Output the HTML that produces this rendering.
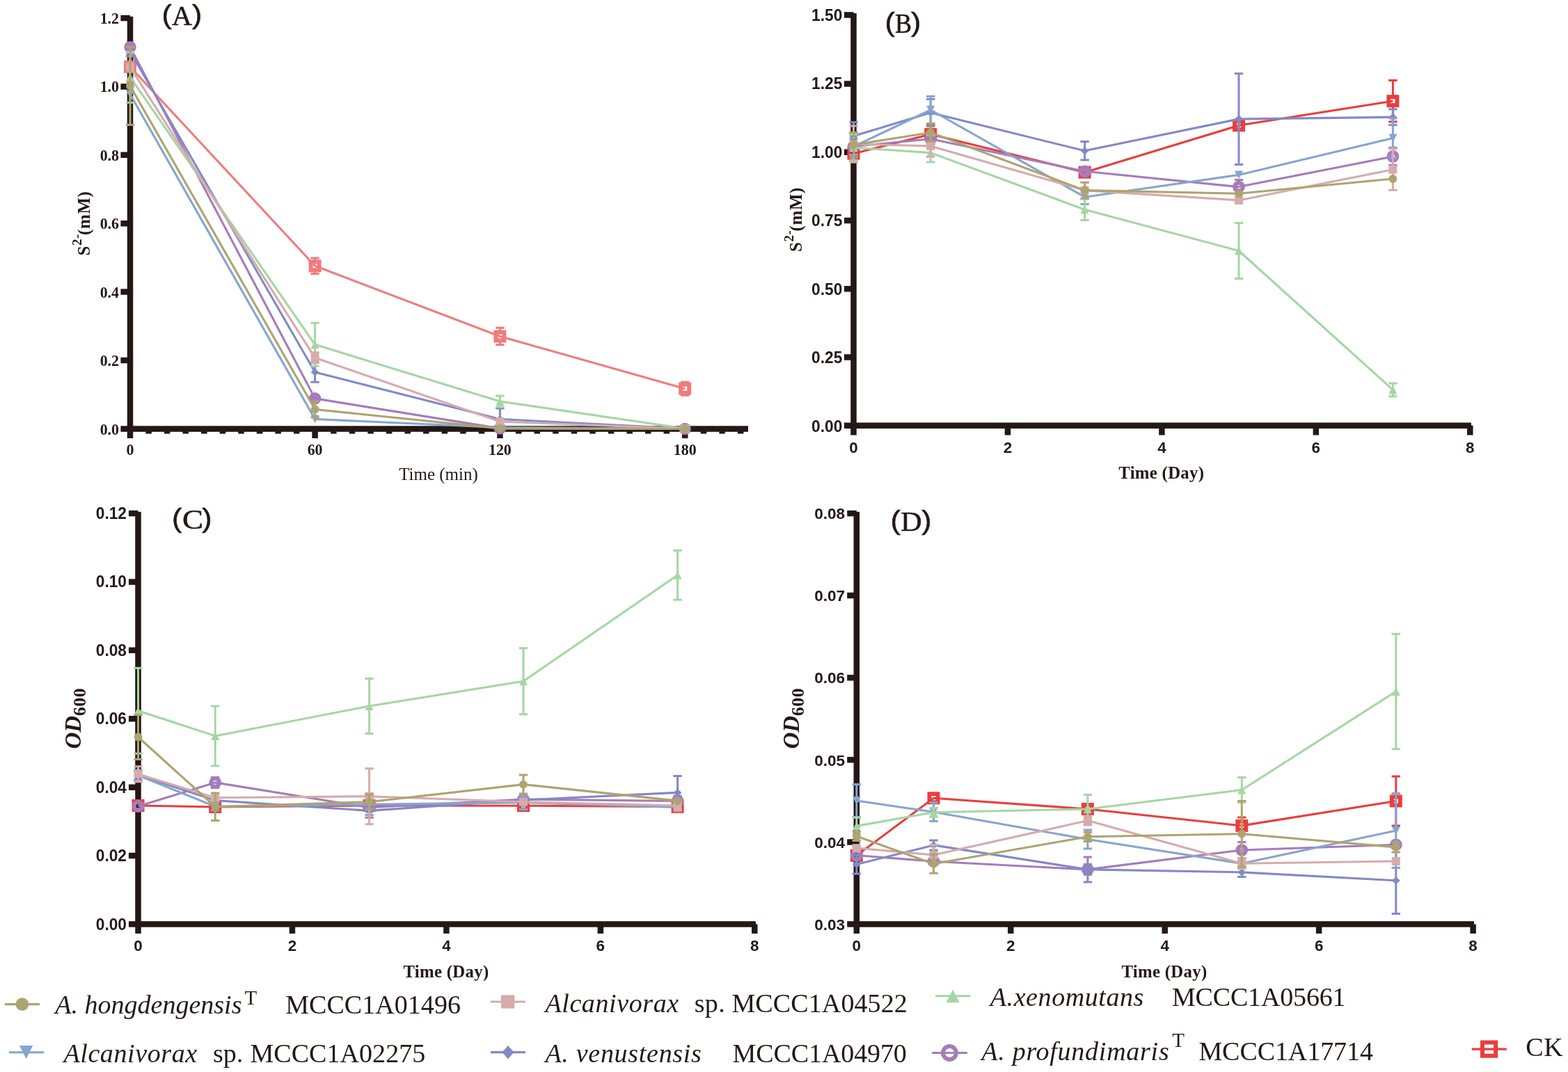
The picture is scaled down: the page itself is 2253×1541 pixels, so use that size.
<!DOCTYPE html>
<html lang="en">
<head>
<meta charset="utf-8">
<title>Sulfide oxidation and growth of Alcanivorax strains</title>
<style>
html,body{margin:0;padding:0;background:#fff;}
body{width:2253px;height:1541px;overflow:hidden;}
svg{display:block;}
text{fill:#231815;}
</style>
</head>
<body>
<svg width="2253" height="1541" viewBox="0 0 2253 1541" role="img" aria-label="Four line charts with a shared legend">
<rect width="2253" height="1541" fill="#fff"/>
<g id="panelA">
<path d="M187,23.7V620.65M173.4,616.4H1075M173.4,26H187M173.4,124.4H187M173.4,222.8H187M173.4,321.2H187M173.4,419.6H187M173.4,518H187M187,616.4V630M452.6,616.4V630M718.4,616.4V630M984.2,616.4V630M213.58,616.4V623.6M240.16,616.4V623.6M266.74,616.4V623.6M293.32,616.4V623.6M319.9,616.4V623.6M346.48,616.4V623.6M373.06,616.4V623.6M399.64,616.4V623.6M426.22,616.4V623.6M479.38,616.4V623.6M505.96,616.4V623.6M532.54,616.4V623.6M559.12,616.4V623.6M585.7,616.4V623.6M612.28,616.4V623.6M638.86,616.4V623.6M665.44,616.4V623.6M692.02,616.4V623.6M745.18,616.4V623.6M771.76,616.4V623.6M798.34,616.4V623.6M824.92,616.4V623.6M851.5,616.4V623.6M878.08,616.4V623.6M904.66,616.4V623.6M931.24,616.4V623.6M957.82,616.4V623.6M1010.98,616.4V623.6M1037.56,616.4V623.6M1064.14,616.4V623.6" stroke="#231815" stroke-width="8.5" fill="none"/>
<g stroke="#F07C7D" fill="none"><path d="M452.6,371V379.3M452.6,385.3V393.6M446.4,371H458.8M446.4,393.6H458.8M718.4,471.3V480.5M718.4,486.5V495.7M712.2,471.3H724.6M712.2,495.7H724.6M984.2,549.2V555.7M984.2,561.7V568.2M978,549.2H990.4M978,568.2H990.4" stroke-width="3.0"/><polyline points="187,96 452.6,382.3 718.4,483.5 984.2,558.7" stroke-width="3.1" stroke-linejoin="round"/></g><rect x="181" y="90" width="12" height="12" fill="none" stroke="#F07C7D" stroke-width="6"/><rect x="446.6" y="376.3" width="12" height="12" fill="none" stroke="#F07C7D" stroke-width="6"/><rect x="712.4" y="477.5" width="12" height="12" fill="none" stroke="#F07C7D" stroke-width="6"/><rect x="978.2" y="552.7" width="12" height="12" fill="none" stroke="#F07C7D" stroke-width="6"/>
<g stroke="#A57CBB" fill="none"><polyline points="187,67.8 452.6,572.9 718.4,615.9 984.2,616.5" stroke-width="3.1" stroke-linejoin="round"/></g><circle cx="187" cy="67.8" r="8.8" fill="#A57CBB"/><circle cx="452.6" cy="572.9" r="8.8" fill="#A57CBB"/><circle cx="718.4" cy="615.9" r="8.8" fill="#A57CBB"/><circle cx="984.2" cy="616.5" r="8.8" fill="#A57CBB"/>
<g stroke="#8389C6" fill="none"><path d="M187,67.5V80.5M180.8,67.5H193.2M180.8,80.5H193.2M452.6,520.7V549.3M446.4,520.7H458.8M446.4,549.3H458.8M718.4,587V618M712.2,587H724.6M712.2,618H724.6" stroke-width="3.0"/><polyline points="187,74 452.6,535 718.4,602.5 984.2,616" stroke-width="3.1" stroke-linejoin="round"/></g><polygon points="181,74 187,68.5 193,74 187,79.5" fill="#8389C6"/><polygon points="446.6,535 452.6,529.5 458.6,535 452.6,540.5" fill="#8389C6"/><polygon points="712.4,602.5 718.4,597 724.4,602.5 718.4,608" fill="#8389C6"/><polygon points="978.2,616 984.2,610.5 990.2,616 984.2,621.5" fill="#8389C6"/>
<g stroke="#85A5CF" fill="none"><polyline points="187,135.5 452.6,602.5 718.4,614.5 984.2,616.3" stroke-width="3.1" stroke-linejoin="round"/></g><polygon points="180.95,129.5 193.05,129.5 187,141.3" fill="#85A5CF"/><polygon points="446.55,596.5 458.65,596.5 452.6,608.3" fill="#85A5CF"/><polygon points="712.35,608.5 724.45,608.5 718.4,620.3" fill="#85A5CF"/><polygon points="978.15,610.3 990.25,610.3 984.2,622.1" fill="#85A5CF"/>
<g stroke="#A5D6A4" fill="none"><path d="M187,74.4V147.4M180.8,74.4H193.2M180.8,147.4H193.2M452.6,464.3V526.3M446.4,464.3H458.8M446.4,526.3H458.8M718.4,569V585M712.2,569H724.6M712.2,585H724.6" stroke-width="3.0"/><polyline points="187,110.9 452.6,495.3 718.4,577 984.2,616" stroke-width="3.1" stroke-linejoin="round"/></g><polygon points="180.95,116.9 193.05,116.9 187,105.1" fill="#A5D6A4"/><polygon points="446.55,501.3 458.65,501.3 452.6,489.5" fill="#A5D6A4"/><polygon points="712.35,583 724.45,583 718.4,571.2" fill="#A5D6A4"/><polygon points="978.15,622 990.25,622 984.2,610.2" fill="#A5D6A4"/>
<g stroke="#D6ABAB" fill="none"><path d="M187,76.2V116.8M180.8,76.2H193.2M180.8,116.8H193.2M452.6,506.8V521.8M446.4,506.8H458.8M446.4,521.8H458.8" stroke-width="3.0"/><polyline points="187,96.5 452.6,514.3 718.4,606 984.2,616.3" stroke-width="3.1" stroke-linejoin="round"/></g><rect x="181" y="90.5" width="12" height="12" fill="#D6ABAB"/><rect x="446.6" y="508.3" width="12" height="12" fill="#D6ABAB"/><rect x="712.4" y="600" width="12" height="12" fill="#D6ABAB"/><rect x="978.2" y="610.3" width="12" height="12" fill="#D6ABAB"/>
<g stroke="#ADA470" fill="none"><path d="M187,67.6V179.6M180.8,67.6H193.2M180.8,179.6H193.2M452.6,576.9V600.1M446.4,576.9H458.8M446.4,600.1H458.8" stroke-width="3.0"/><polyline points="187,123.6 452.6,588.5 718.4,615.9 984.2,616.5" stroke-width="3.1" stroke-linejoin="round"/></g><circle cx="187" cy="123.6" r="5.9" fill="#ADA470"/><circle cx="452.6" cy="588.5" r="5.9" fill="#ADA470"/><circle cx="718.4" cy="615.9" r="5.9" fill="#ADA470"/><circle cx="984.2" cy="616.5" r="5.9" fill="#ADA470"/>
<text transform="translate(171,33.8) scale(0.96,1)" font-family="'Liberation Serif','Noto Serif CJK SC',serif" font-size="22.8" font-weight="bold" text-anchor="end">1.2</text>
<text transform="translate(171,132.25) scale(0.96,1)" font-family="'Liberation Serif','Noto Serif CJK SC',serif" font-size="22.8" font-weight="bold" text-anchor="end">1.0</text>
<text transform="translate(171,230.7) scale(0.96,1)" font-family="'Liberation Serif','Noto Serif CJK SC',serif" font-size="22.8" font-weight="bold" text-anchor="end">0.8</text>
<text transform="translate(171,329.15) scale(0.96,1)" font-family="'Liberation Serif','Noto Serif CJK SC',serif" font-size="22.8" font-weight="bold" text-anchor="end">0.6</text>
<text transform="translate(171,427.6) scale(0.96,1)" font-family="'Liberation Serif','Noto Serif CJK SC',serif" font-size="22.8" font-weight="bold" text-anchor="end">0.4</text>
<text transform="translate(171,526.05) scale(0.96,1)" font-family="'Liberation Serif','Noto Serif CJK SC',serif" font-size="22.8" font-weight="bold" text-anchor="end">0.2</text>
<text transform="translate(171,624.5) scale(0.96,1)" font-family="'Liberation Serif','Noto Serif CJK SC',serif" font-size="22.8" font-weight="bold" text-anchor="end">0.0</text>
<text transform="translate(187,654) scale(0.96,1)" font-family="'Liberation Serif','Noto Serif CJK SC',serif" font-size="22.8" font-weight="bold" text-anchor="middle">0</text>
<text transform="translate(452.6,654) scale(0.96,1)" font-family="'Liberation Serif','Noto Serif CJK SC',serif" font-size="22.8" font-weight="bold" text-anchor="middle">60</text>
<text transform="translate(718.4,654) scale(0.96,1)" font-family="'Liberation Serif','Noto Serif CJK SC',serif" font-size="22.8" font-weight="bold" text-anchor="middle">120</text>
<text transform="translate(984.2,654) scale(0.96,1)" font-family="'Liberation Serif','Noto Serif CJK SC',serif" font-size="22.8" font-weight="bold" text-anchor="middle">180</text>
<text x="630" y="689.6" font-family="'Liberation Serif','Noto Serif CJK SC',serif" font-size="25" text-anchor="middle">Time (min)</text>
<text transform="translate(129.3,367.5) rotate(-90)" font-family="'Liberation Serif',serif" font-size="25" font-weight="bold" letter-spacing="0.6">S<tspan dy="-12" font-size="19">2-</tspan><tspan dy="12" dx="-2">(mM)</tspan></text>
<g font-family="'Liberation Sans',sans-serif" font-size="38.0" stroke="#231815" stroke-width="0.55"><text transform="translate(232.6,33.9) scale(1.13,1)">(</text><text transform="translate(276.12,33.9) scale(1.13,1)">)</text></g>
<text transform="translate(247,35.8) scale(1.0,1)" font-family="'Liberation Serif',serif" font-size="40" stroke="#231815" stroke-width="0.6">A</text>
</g>
<g id="panelB">
<path d="M1226.5,19V616.05M1212.9,611.8H2114M1212.9,21.4H1226.5M1212.9,120.4H1226.5M1212.9,218.68H1226.5M1212.9,316.96H1226.5M1212.9,415.24H1226.5M1212.9,513.52H1226.5M1226.5,611.8V625.4M1447.95,611.8V625.4M1669.4,611.8V625.4M1890.85,611.8V625.4M2112.3,611.8V625.4" stroke="#231815" stroke-width="8.5" fill="none"/>
<g stroke="#E93E3E" fill="none"><path d="M1220.3,217.7H1232.7M1220.3,223.7H1232.7M1337.2,179.5V190M1337.2,196V206.5M1331,179.5H1343.4M1331,206.5H1343.4M2001.4,115.5V142.3M2001.4,148.3V175.1M1995.2,115.5H2007.6M1995.2,175.1H2007.6" stroke-width="3.0"/><polyline points="1226.5,220.7 1337.2,193 1558.6,247.7 1780,180.3 2001.4,145.3" stroke-width="3.1" stroke-linejoin="round"/></g><rect x="1220.5" y="214.7" width="12" height="12" fill="none" stroke="#E93E3E" stroke-width="6"/><rect x="1331.2" y="187" width="12" height="12" fill="none" stroke="#E93E3E" stroke-width="6"/><rect x="1552.6" y="241.7" width="12" height="12" fill="none" stroke="#E93E3E" stroke-width="6"/><rect x="1774" y="174.3" width="12" height="12" fill="none" stroke="#E93E3E" stroke-width="6"/><rect x="1995.4" y="139.3" width="12" height="12" fill="none" stroke="#E93E3E" stroke-width="6"/>
<g stroke="#A57CBB" fill="none"><path d="M1226.5,191.5V207.5M1226.5,213.5V229.5M1220.3,191.5H1232.7M1220.3,229.5H1232.7M1780,258.6V265.6M1780,271.6V278.6M1773.8,258.6H1786.2M1773.8,278.6H1786.2M2001.4,212.2V221.9M2001.4,227.9V237.6M1995.2,212.2H2007.6M1995.2,237.6H2007.6" stroke-width="3.0"/><polyline points="1226.5,210.5 1337.2,199.7 1558.6,246.3 1780,268.6 2001.4,224.9" stroke-width="3.1" stroke-linejoin="round"/></g><circle cx="1226.5" cy="210.5" r="5.9" fill="none" stroke="#A57CBB" stroke-width="6"/><circle cx="1337.2" cy="199.7" r="5.9" fill="none" stroke="#A57CBB" stroke-width="6"/><circle cx="1558.6" cy="246.3" r="5.9" fill="none" stroke="#A57CBB" stroke-width="6"/><circle cx="1780" cy="268.6" r="5.9" fill="none" stroke="#A57CBB" stroke-width="6"/><circle cx="2001.4" cy="224.9" r="5.9" fill="none" stroke="#A57CBB" stroke-width="6"/>
<g stroke="#8389C6" fill="none"><path d="M1226.5,175.7V215.5M1220.3,175.7H1232.7M1220.3,215.5H1232.7M1337.2,142.4V181.6M1331,142.4H1343.4M1331,181.6H1343.4M1558.6,203.6V230M1552.4,203.6H1564.8M1552.4,230H1564.8M1780,105.75V236.45M1773.8,105.75H1786.2M1773.8,236.45H1786.2M2001.4,157V179.8M1995.2,157H2007.6M1995.2,179.8H2007.6" stroke-width="3.0"/><polyline points="1226.5,195.6 1337.2,162 1558.6,216.8 1780,171.1 2001.4,168.4" stroke-width="3.1" stroke-linejoin="round"/></g><polygon points="1220.5,195.6 1226.5,190.1 1232.5,195.6 1226.5,201.1" fill="#8389C6"/><polygon points="1331.2,162 1337.2,156.5 1343.2,162 1337.2,167.5" fill="#8389C6"/><polygon points="1552.6,216.8 1558.6,211.3 1564.6,216.8 1558.6,222.3" fill="#8389C6"/><polygon points="1774,171.1 1780,165.6 1786,171.1 1780,176.6" fill="#8389C6"/><polygon points="1995.4,168.4 2001.4,162.9 2007.4,168.4 2001.4,173.9" fill="#8389C6"/>
<g stroke="#85A5CF" fill="none"><path d="M1226.5,198.9V222.5M1220.3,198.9H1232.7M1220.3,222.5H1232.7M1337.2,138.6V177.4M1331,138.6H1343.4M1331,177.4H1343.4M1558.6,272.9V293.5M1552.4,272.9H1564.8M1552.4,293.5H1564.8M2001.4,170V227M1995.2,170H2007.6M1995.2,227H2007.6" stroke-width="3.0"/><polyline points="1226.5,210.7 1337.2,158 1558.6,283.2 1780,251.4 2001.4,198.5" stroke-width="3.1" stroke-linejoin="round"/></g><polygon points="1220.45,204.7 1232.55,204.7 1226.5,216.5" fill="#85A5CF"/><polygon points="1331.15,152 1343.25,152 1337.2,163.8" fill="#85A5CF"/><polygon points="1552.55,277.2 1564.65,277.2 1558.6,289" fill="#85A5CF"/><polygon points="1773.95,245.4 1786.05,245.4 1780,257.2" fill="#85A5CF"/><polygon points="1995.35,192.5 2007.45,192.5 2001.4,204.3" fill="#85A5CF"/>
<g stroke="#A5D6A4" fill="none"><path d="M1226.5,193.2V231M1220.3,193.2H1232.7M1220.3,231H1232.7M1337.2,206.1V233.1M1331,206.1H1343.4M1331,233.1H1343.4M1558.6,286.2V316.4M1552.4,286.2H1564.8M1552.4,316.4H1564.8M1780,320.4V400.6M1773.8,320.4H1786.2M1773.8,400.6H1786.2M2001.4,551.1V569.7M1995.2,551.1H2007.6M1995.2,569.7H2007.6" stroke-width="3.0"/><polyline points="1226.5,212.1 1337.2,219.6 1558.6,301.3 1780,360.5 2001.4,560.4" stroke-width="3.1" stroke-linejoin="round"/></g><polygon points="1220.45,218.1 1232.55,218.1 1226.5,206.3" fill="#A5D6A4"/><polygon points="1331.15,225.6 1343.25,225.6 1337.2,213.8" fill="#A5D6A4"/><polygon points="1552.55,307.3 1564.65,307.3 1558.6,295.5" fill="#A5D6A4"/><polygon points="1773.95,366.5 1786.05,366.5 1780,354.7" fill="#A5D6A4"/><polygon points="1995.35,566.4 2007.45,566.4 2001.4,554.6" fill="#A5D6A4"/>
<g stroke="#D6ABAB" fill="none"><path d="M1226.5,180.9V233.3M1220.3,180.9H1232.7M1220.3,233.3H1232.7M1337.2,194.5V225.3M1331,194.5H1343.4M1331,225.3H1343.4M2001.4,214.1V273.3M1995.2,214.1H2007.6M1995.2,273.3H2007.6" stroke-width="3.0"/><polyline points="1226.5,207.1 1337.2,209.9 1558.6,273.6 1780,287.9 2001.4,243.7" stroke-width="3.1" stroke-linejoin="round"/></g><rect x="1220.5" y="201.1" width="12" height="12" fill="#D6ABAB"/><rect x="1331.2" y="203.9" width="12" height="12" fill="#D6ABAB"/><rect x="1552.6" y="267.6" width="12" height="12" fill="#D6ABAB"/><rect x="1774" y="281.9" width="12" height="12" fill="#D6ABAB"/><rect x="1995.4" y="237.7" width="12" height="12" fill="#D6ABAB"/>
<g stroke="#ADA470" fill="none"><path d="M1226.5,190.4V226M1220.3,190.4H1232.7M1220.3,226H1232.7M1337.2,177.5V203.5M1331,177.5H1343.4M1331,203.5H1343.4M1558.6,262.2V285M1552.4,262.2H1564.8M1552.4,285H1564.8" stroke-width="3.0"/><polyline points="1226.5,208.2 1337.2,190.5 1558.6,273.6 1780,278.3 2001.4,257" stroke-width="3.1" stroke-linejoin="round"/></g><circle cx="1226.5" cy="208.2" r="5.9" fill="#ADA470"/><circle cx="1337.2" cy="190.5" r="5.9" fill="#ADA470"/><circle cx="1558.6" cy="273.6" r="5.9" fill="#ADA470"/><circle cx="1780" cy="278.3" r="5.9" fill="#ADA470"/><circle cx="2001.4" cy="257" r="5.9" fill="#ADA470"/>
<text transform="translate(1210.3,29.7) scale(0.987,1)" font-family="'Liberation Sans','Noto Sans CJK SC',sans-serif" font-size="23" font-weight="bold" text-anchor="end">1.50</text>
<text transform="translate(1210.3,128.2) scale(0.987,1)" font-family="'Liberation Sans','Noto Sans CJK SC',sans-serif" font-size="23" font-weight="bold" text-anchor="end">1.25</text>
<text transform="translate(1210.3,226.7) scale(0.987,1)" font-family="'Liberation Sans','Noto Sans CJK SC',sans-serif" font-size="23" font-weight="bold" text-anchor="end">1.00</text>
<text transform="translate(1210.3,325.2) scale(0.987,1)" font-family="'Liberation Sans','Noto Sans CJK SC',sans-serif" font-size="23" font-weight="bold" text-anchor="end">0.75</text>
<text transform="translate(1210.3,423.7) scale(0.987,1)" font-family="'Liberation Sans','Noto Sans CJK SC',sans-serif" font-size="23" font-weight="bold" text-anchor="end">0.50</text>
<text transform="translate(1210.3,522.2) scale(0.987,1)" font-family="'Liberation Sans','Noto Sans CJK SC',sans-serif" font-size="23" font-weight="bold" text-anchor="end">0.25</text>
<text transform="translate(1210.3,620.7) scale(0.987,1)" font-family="'Liberation Sans','Noto Sans CJK SC',sans-serif" font-size="23" font-weight="bold" text-anchor="end">0.00</text>
<text x="1226.5" y="650.5" font-family="'Liberation Sans','Noto Sans CJK SC',sans-serif" font-size="22.4" font-weight="bold" text-anchor="middle">0</text>
<text x="1447.95" y="650.5" font-family="'Liberation Sans','Noto Sans CJK SC',sans-serif" font-size="22.4" font-weight="bold" text-anchor="middle">2</text>
<text x="1669.4" y="650.5" font-family="'Liberation Sans','Noto Sans CJK SC',sans-serif" font-size="22.4" font-weight="bold" text-anchor="middle">4</text>
<text x="1890.85" y="650.5" font-family="'Liberation Sans','Noto Sans CJK SC',sans-serif" font-size="22.4" font-weight="bold" text-anchor="middle">6</text>
<text x="2112.3" y="650.5" font-family="'Liberation Sans','Noto Sans CJK SC',sans-serif" font-size="22.4" font-weight="bold" text-anchor="middle">8</text>
<text x="1668.8" y="688.3" font-family="'Liberation Serif','Noto Serif CJK SC',serif" font-size="24.8" font-weight="bold" text-anchor="middle" letter-spacing="0.3">Time (Day)</text>
<text transform="translate(1151.5,362.0) rotate(-90)" font-family="'Liberation Serif',serif" font-size="25" font-weight="bold" letter-spacing="0.6">S<tspan dy="-12" font-size="19">2-</tspan><tspan dy="12" dx="-2">(mM)</tspan></text>
<g font-family="'Liberation Sans',sans-serif" font-size="38.0" stroke="#231815" stroke-width="0.55"><text transform="translate(1271.4,45.2) scale(1.13,1)">(</text><text transform="translate(1309.02,45.2) scale(1.13,1)">)</text></g>
<text transform="translate(1286,47.1) scale(0.9,1)" font-family="'Liberation Serif',serif" font-size="40" stroke="#231815" stroke-width="0.6">B</text>
</g>
<g id="panelC">
<path d="M198.5,735.8V1332.7M184.9,1328.45H1086M184.9,738.05H198.5M184.9,836.45H198.5M184.9,934.85H198.5M184.9,1033.25H198.5M184.9,1131.65H198.5M184.9,1230.05H198.5M198.5,1328.45V1342.05M419.95,1328.45V1342.05M641.4,1328.45V1342.05M862.85,1328.45V1342.05M1084.3,1328.45V1342.05" stroke="#231815" stroke-width="8.5" fill="none"/>
<g stroke="#E93E3E" fill="none"><polyline points="198.5,1158 309.2,1160 530.6,1158 752,1158.2 973.6,1159.8" stroke-width="3.1" stroke-linejoin="round"/></g><rect x="192.5" y="1152" width="12" height="12" fill="none" stroke="#E93E3E" stroke-width="6"/><rect x="303.2" y="1154" width="12" height="12" fill="none" stroke="#E93E3E" stroke-width="6"/><rect x="524.6" y="1152" width="12" height="12" fill="none" stroke="#E93E3E" stroke-width="6"/><rect x="746" y="1152.2" width="12" height="12" fill="none" stroke="#E93E3E" stroke-width="6"/><rect x="967.6" y="1153.8" width="12" height="12" fill="none" stroke="#E93E3E" stroke-width="6"/>
<g stroke="#A57CBB" fill="none"><path d="M309.2,1117.4V1121.9M309.2,1127.9V1132.4M303,1117.4H315.4M303,1132.4H315.4M530.6,1146.3V1157.8M530.6,1163.8V1175.3M524.4,1146.3H536.8M524.4,1175.3H536.8M973.6,1144.2V1148.5M973.6,1154.5V1158.8M967.4,1144.2H979.8M967.4,1158.8H979.8" stroke-width="3.0"/><polyline points="198.5,1159 309.2,1124.9 530.6,1160.8 752,1149 973.6,1151.5" stroke-width="3.1" stroke-linejoin="round"/></g><circle cx="198.5" cy="1159" r="5.9" fill="none" stroke="#A57CBB" stroke-width="6"/><circle cx="309.2" cy="1124.9" r="5.9" fill="none" stroke="#A57CBB" stroke-width="6"/><circle cx="530.6" cy="1160.8" r="5.9" fill="none" stroke="#A57CBB" stroke-width="6"/><circle cx="752" cy="1149" r="5.9" fill="none" stroke="#A57CBB" stroke-width="6"/><circle cx="973.6" cy="1151.5" r="5.9" fill="none" stroke="#A57CBB" stroke-width="6"/>
<g stroke="#8389C6" fill="none"><path d="M198.5,1107V1121M192.3,1107H204.7M192.3,1121H204.7M973.6,1115.4V1163.4M967.4,1115.4H979.8M967.4,1163.4H979.8" stroke-width="3.0"/><polyline points="198.5,1114 309.2,1150.6 530.6,1165.4 752,1150 973.6,1139.4" stroke-width="3.1" stroke-linejoin="round"/></g><polygon points="192.5,1114 198.5,1108.5 204.5,1114 198.5,1119.5" fill="#8389C6"/><polygon points="303.2,1150.6 309.2,1145.1 315.2,1150.6 309.2,1156.1" fill="#8389C6"/><polygon points="524.6,1165.4 530.6,1159.9 536.6,1165.4 530.6,1170.9" fill="#8389C6"/><polygon points="746,1150 752,1144.5 758,1150 752,1155.5" fill="#8389C6"/><polygon points="967.6,1139.4 973.6,1133.9 979.6,1139.4 973.6,1144.9" fill="#8389C6"/>
<g stroke="#85A5CF" fill="none"><path d="M198.5,1107.5V1121.5M192.3,1107.5H204.7M192.3,1121.5H204.7M309.2,1154.1V1164.7M303,1154.1H315.4M303,1164.7H315.4M530.6,1141.4V1171.4M524.4,1141.4H536.8M524.4,1171.4H536.8M752,1143.8V1163.4M745.8,1143.8H758.2M745.8,1163.4H758.2" stroke-width="3.0"/><polyline points="198.5,1114.5 309.2,1159.4 530.6,1156.4 752,1153.6 973.6,1160.5" stroke-width="3.1" stroke-linejoin="round"/></g><polygon points="192.45,1108.5 204.55,1108.5 198.5,1120.3" fill="#85A5CF"/><polygon points="303.15,1153.4 315.25,1153.4 309.2,1165.2" fill="#85A5CF"/><polygon points="524.55,1150.4 536.65,1150.4 530.6,1162.2" fill="#85A5CF"/><polygon points="745.95,1147.6 758.05,1147.6 752,1159.4" fill="#85A5CF"/><polygon points="967.55,1154.5 979.65,1154.5 973.6,1166.3" fill="#85A5CF"/>
<g stroke="#A5D6A4" fill="none"><path d="M198.5,960.2V1083.2M192.3,960.2H204.7M192.3,1083.2H204.7M309.2,1014.9V1100.9M303,1014.9H315.4M303,1100.9H315.4M530.6,975.5V1054.5M524.4,975.5H536.8M524.4,1054.5H536.8M752,931.8V1026.8M745.8,931.8H758.2M745.8,1026.8H758.2M973.6,791.2V862.2M967.4,791.2H979.8M967.4,862.2H979.8" stroke-width="3.0"/><polyline points="198.5,1021.7 309.2,1057.9 530.6,1015 752,979.3 973.6,826.7" stroke-width="3.1" stroke-linejoin="round"/></g><polygon points="192.45,1027.7 204.55,1027.7 198.5,1015.9" fill="#A5D6A4"/><polygon points="303.15,1063.9 315.25,1063.9 309.2,1052.1" fill="#A5D6A4"/><polygon points="524.55,1021 536.65,1021 530.6,1009.2" fill="#A5D6A4"/><polygon points="745.95,985.3 758.05,985.3 752,973.5" fill="#A5D6A4"/><polygon points="967.55,832.7 979.65,832.7 973.6,820.9" fill="#A5D6A4"/>
<g stroke="#D6ABAB" fill="none"><path d="M198.5,1101.8V1123.8M192.3,1101.8H204.7M192.3,1123.8H204.7M530.6,1104.7V1184.7M524.4,1104.7H536.8M524.4,1184.7H536.8M973.6,1150.8V1165.2M967.4,1150.8H979.8M967.4,1165.2H979.8" stroke-width="3.0"/><polyline points="198.5,1112.8 309.2,1146.8 530.6,1144.7 752,1152.7 973.6,1158" stroke-width="3.1" stroke-linejoin="round"/></g><rect x="192.5" y="1106.8" width="12" height="12" fill="#D6ABAB"/><rect x="303.2" y="1140.8" width="12" height="12" fill="#D6ABAB"/><rect x="524.6" y="1138.7" width="12" height="12" fill="#D6ABAB"/><rect x="746" y="1146.7" width="12" height="12" fill="#D6ABAB"/><rect x="967.6" y="1152" width="12" height="12" fill="#D6ABAB"/>
<g stroke="#ADA470" fill="none"><path d="M198.5,1027.5V1091.5M192.3,1027.5H204.7M192.3,1091.5H204.7M309.2,1139.9V1179.5M303,1139.9H315.4M303,1179.5H315.4M530.6,1142.2V1163.2M524.4,1142.2H536.8M524.4,1163.2H536.8M752,1114.1V1141.1M745.8,1114.1H758.2M745.8,1141.1H758.2" stroke-width="3.0"/><polyline points="198.5,1059.5 309.2,1159.7 530.6,1152.7 752,1127.6 973.6,1151.1" stroke-width="3.1" stroke-linejoin="round"/></g><circle cx="198.5" cy="1059.5" r="5.9" fill="#ADA470"/><circle cx="309.2" cy="1159.7" r="5.9" fill="#ADA470"/><circle cx="530.6" cy="1152.7" r="5.9" fill="#ADA470"/><circle cx="752" cy="1127.6" r="5.9" fill="#ADA470"/><circle cx="973.6" cy="1151.1" r="5.9" fill="#ADA470"/>
<text transform="translate(182,746) scale(0.987,1)" font-family="'Liberation Sans','Noto Sans CJK SC',sans-serif" font-size="23" font-weight="bold" text-anchor="end">0.12</text>
<text transform="translate(182,844.48) scale(0.987,1)" font-family="'Liberation Sans','Noto Sans CJK SC',sans-serif" font-size="23" font-weight="bold" text-anchor="end">0.10</text>
<text transform="translate(182,942.96) scale(0.987,1)" font-family="'Liberation Sans','Noto Sans CJK SC',sans-serif" font-size="23" font-weight="bold" text-anchor="end">0.08</text>
<text transform="translate(182,1041.44) scale(0.987,1)" font-family="'Liberation Sans','Noto Sans CJK SC',sans-serif" font-size="23" font-weight="bold" text-anchor="end">0.06</text>
<text transform="translate(182,1139.92) scale(0.987,1)" font-family="'Liberation Sans','Noto Sans CJK SC',sans-serif" font-size="23" font-weight="bold" text-anchor="end">0.04</text>
<text transform="translate(182,1238.4) scale(0.987,1)" font-family="'Liberation Sans','Noto Sans CJK SC',sans-serif" font-size="23" font-weight="bold" text-anchor="end">0.02</text>
<text transform="translate(182,1336.88) scale(0.987,1)" font-family="'Liberation Sans','Noto Sans CJK SC',sans-serif" font-size="23" font-weight="bold" text-anchor="end">0.00</text>
<text x="198.5" y="1367" font-family="'Liberation Sans','Noto Sans CJK SC',sans-serif" font-size="22.4" font-weight="bold" text-anchor="middle">0</text>
<text x="419.95" y="1367" font-family="'Liberation Sans','Noto Sans CJK SC',sans-serif" font-size="22.4" font-weight="bold" text-anchor="middle">2</text>
<text x="641.4" y="1367" font-family="'Liberation Sans','Noto Sans CJK SC',sans-serif" font-size="22.4" font-weight="bold" text-anchor="middle">4</text>
<text x="862.85" y="1367" font-family="'Liberation Sans','Noto Sans CJK SC',sans-serif" font-size="22.4" font-weight="bold" text-anchor="middle">6</text>
<text x="1084.3" y="1367" font-family="'Liberation Sans','Noto Sans CJK SC',sans-serif" font-size="22.4" font-weight="bold" text-anchor="middle">8</text>
<text x="641" y="1404.9" font-family="'Liberation Serif','Noto Serif CJK SC',serif" font-size="24.8" font-weight="bold" text-anchor="middle" letter-spacing="0.3">Time (Day)</text>
<text transform="translate(116.2,1076.5) rotate(-90)" font-family="'Liberation Serif',serif" font-size="33" font-weight="bold" font-style="italic">OD<tspan dy="7" dx="-0.5" font-size="26" letter-spacing="0.5" font-style="normal">600</tspan></text>
<g font-family="'Liberation Sans',sans-serif" font-size="38.0" stroke="#231815" stroke-width="0.55"><text transform="translate(247.1,757.9) scale(1.13,1)">(</text><text transform="translate(290.32,757.9) scale(1.13,1)">)</text></g>
<text transform="translate(262,759.8) scale(1.12,1)" font-family="'Liberation Serif',serif" font-size="40" stroke="#231815" stroke-width="0.6">C</text>
</g>
<g id="panelD">
<path d="M1230.8,735.8V1332.75M1217.2,1328.5H2118M1217.2,738H1230.8M1217.2,856.1H1230.8M1217.2,974.2H1230.8M1217.2,1092.3H1230.8M1217.2,1210.4H1230.8M1230.8,1328.5V1342.1M1452.25,1328.5V1342.1M1673.7,1328.5V1342.1M1895.15,1328.5V1342.1M2116.6,1328.5V1342.1" stroke="#231815" stroke-width="8.5" fill="none"/>
<g stroke="#E93E3E" fill="none"><path d="M1784.3,1175.1V1183.9M1784.3,1189.9V1198.7M1778.1,1175.1H1790.5M1778.1,1198.7H1790.5M2005.8,1116V1148.5M2005.8,1154.5V1187M1999.6,1116H2012M1999.6,1187H2012" stroke-width="3.0"/><polyline points="1230.8,1229.8 1341.5,1147.3 1562.9,1163 1784.3,1186.9 2005.8,1151.5" stroke-width="3.1" stroke-linejoin="round"/></g><rect x="1224.8" y="1223.8" width="12" height="12" fill="none" stroke="#E93E3E" stroke-width="6"/><rect x="1335.5" y="1141.3" width="12" height="12" fill="none" stroke="#E93E3E" stroke-width="6"/><rect x="1556.9" y="1157" width="12" height="12" fill="none" stroke="#E93E3E" stroke-width="6"/><rect x="1778.3" y="1180.9" width="12" height="12" fill="none" stroke="#E93E3E" stroke-width="6"/><rect x="1999.8" y="1145.5" width="12" height="12" fill="none" stroke="#E93E3E" stroke-width="6"/>
<g stroke="#A57CBB" fill="none"><path d="M1562.9,1231.9V1246.9M1562.9,1252.9V1267.9M1556.7,1231.9H1569.1M1556.7,1267.9H1569.1M1784.3,1210.4V1219M1784.3,1225V1233.6M1778.1,1210.4H1790.5M1778.1,1233.6H1790.5" stroke-width="3.0"/><polyline points="1230.8,1229.5 1341.5,1238.2 1562.9,1249.9 1784.3,1222 2005.8,1214.2" stroke-width="3.1" stroke-linejoin="round"/></g><circle cx="1230.8" cy="1229.5" r="5.9" fill="none" stroke="#A57CBB" stroke-width="6"/><circle cx="1341.5" cy="1238.2" r="5.9" fill="none" stroke="#A57CBB" stroke-width="6"/><circle cx="1562.9" cy="1249.9" r="5.9" fill="none" stroke="#A57CBB" stroke-width="6"/><circle cx="1784.3" cy="1222" r="5.9" fill="none" stroke="#A57CBB" stroke-width="6"/><circle cx="2005.8" cy="1214.2" r="5.9" fill="none" stroke="#A57CBB" stroke-width="6"/>
<g stroke="#8389C6" fill="none"><path d="M1230.8,1229V1256M1224.6,1229H1237M1224.6,1256H1237M1341.5,1207.9V1221.9M1335.3,1207.9H1347.7M1335.3,1221.9H1347.7M1562.9,1242.6V1257.2M1556.7,1242.6H1569.1M1556.7,1257.2H1569.1M1784.3,1247.2V1260.6M1778.1,1247.2H1790.5M1778.1,1260.6H1790.5M2005.8,1218V1313.4M1999.6,1218H2012M1999.6,1313.4H2012" stroke-width="3.0"/><polyline points="1230.8,1242.5 1341.5,1214.9 1562.9,1249.9 1784.3,1253.9 2005.8,1265.7" stroke-width="3.1" stroke-linejoin="round"/></g><polygon points="1224.8,1242.5 1230.8,1237 1236.8,1242.5 1230.8,1248" fill="#8389C6"/><polygon points="1335.5,1214.9 1341.5,1209.4 1347.5,1214.9 1341.5,1220.4" fill="#8389C6"/><polygon points="1556.9,1249.9 1562.9,1244.4 1568.9,1249.9 1562.9,1255.4" fill="#8389C6"/><polygon points="1778.3,1253.9 1784.3,1248.4 1790.3,1253.9 1784.3,1259.4" fill="#8389C6"/><polygon points="1999.8,1265.7 2005.8,1260.2 2011.8,1265.7 2005.8,1271.2" fill="#8389C6"/>
<g stroke="#85A5CF" fill="none"><path d="M1230.8,1127.5V1174.5M1224.6,1127.5H1237M1224.6,1174.5H1237M1341.5,1153.8V1180.6M1335.3,1153.8H1347.7M1335.3,1180.6H1347.7M1562.9,1193V1220M1556.7,1193H1569.1M1556.7,1220H1569.1M2005.8,1140.6V1247.4M1999.6,1140.6H2012M1999.6,1247.4H2012" stroke-width="3.0"/><polyline points="1230.8,1151 1341.5,1167.2 1562.9,1206.5 1784.3,1241.3 2005.8,1194" stroke-width="3.1" stroke-linejoin="round"/></g><polygon points="1224.75,1145 1236.85,1145 1230.8,1156.8" fill="#85A5CF"/><polygon points="1335.45,1161.2 1347.55,1161.2 1341.5,1173" fill="#85A5CF"/><polygon points="1556.85,1200.5 1568.95,1200.5 1562.9,1212.3" fill="#85A5CF"/><polygon points="1778.25,1235.3 1790.35,1235.3 1784.3,1247.1" fill="#85A5CF"/><polygon points="1999.75,1188 2011.85,1188 2005.8,1199.8" fill="#85A5CF"/>
<g stroke="#A5D6A4" fill="none"><path d="M1230.8,1175.2V1199.6M1224.6,1175.2H1237M1224.6,1199.6H1237M1341.5,1161.2V1174.2M1335.3,1161.2H1347.7M1335.3,1174.2H1347.7M1562.9,1142.6V1183.4M1556.7,1142.6H1569.1M1556.7,1183.4H1569.1M1784.3,1117.5V1153.5M1778.1,1117.5H1790.5M1778.1,1153.5H1790.5M2005.8,911.2V1076.8M1999.6,911.2H2012M1999.6,1076.8H2012" stroke-width="3.0"/><polyline points="1230.8,1187.4 1341.5,1167.7 1562.9,1163 1784.3,1135.5 2005.8,994" stroke-width="3.1" stroke-linejoin="round"/></g><polygon points="1224.75,1193.4 1236.85,1193.4 1230.8,1181.6" fill="#A5D6A4"/><polygon points="1335.45,1173.7 1347.55,1173.7 1341.5,1161.9" fill="#A5D6A4"/><polygon points="1556.85,1169 1568.95,1169 1562.9,1157.2" fill="#A5D6A4"/><polygon points="1778.25,1141.5 1790.35,1141.5 1784.3,1129.7" fill="#A5D6A4"/><polygon points="1999.75,1000 2011.85,1000 2005.8,988.2" fill="#A5D6A4"/>
<g stroke="#D6ABAB" fill="none"><path d="M1341.5,1214.4V1243.6M1335.3,1214.4H1347.7M1335.3,1243.6H1347.7M1562.9,1173.1V1186.1M1556.7,1173.1H1569.1M1556.7,1186.1H1569.1M1784.3,1233.8V1248.8M1778.1,1233.8H1790.5M1778.1,1248.8H1790.5" stroke-width="3.0"/><polyline points="1230.8,1219.1 1341.5,1229 1562.9,1179.6 1784.3,1241.3 2005.8,1238" stroke-width="3.1" stroke-linejoin="round"/></g><rect x="1224.8" y="1213.1" width="12" height="12" fill="#D6ABAB"/><rect x="1335.5" y="1223" width="12" height="12" fill="#D6ABAB"/><rect x="1556.9" y="1173.6" width="12" height="12" fill="#D6ABAB"/><rect x="1778.3" y="1235.3" width="12" height="12" fill="#D6ABAB"/><rect x="1999.8" y="1232" width="12" height="12" fill="#D6ABAB"/>
<g stroke="#ADA470" fill="none"><path d="M1230.8,1195.5V1208.5M1224.6,1195.5H1237M1224.6,1208.5H1237M1341.5,1228.2V1255.2M1335.3,1228.2H1347.7M1335.3,1255.2H1347.7M1562.9,1196.2V1209.4M1556.7,1196.2H1569.1M1556.7,1209.4H1569.1M1784.3,1151.4V1246M1778.1,1151.4H1790.5M1778.1,1246H1790.5M2005.8,1210.9V1224.9M1999.6,1210.9H2012M1999.6,1224.9H2012" stroke-width="3.0"/><polyline points="1230.8,1202 1341.5,1241.7 1562.9,1202.8 1784.3,1198.7 2005.8,1217.9" stroke-width="3.1" stroke-linejoin="round"/></g><circle cx="1230.8" cy="1202" r="5.9" fill="#ADA470"/><circle cx="1341.5" cy="1241.7" r="5.9" fill="#ADA470"/><circle cx="1562.9" cy="1202.8" r="5.9" fill="#ADA470"/><circle cx="1784.3" cy="1198.7" r="5.9" fill="#ADA470"/><circle cx="2005.8" cy="1217.9" r="5.9" fill="#ADA470"/>
<text transform="translate(1214.05,746.1) scale(0.99,1)" font-family="'Liberation Sans','Noto Sans CJK SC',sans-serif" font-size="22.8" font-weight="bold" text-anchor="end">0.08</text>
<text transform="translate(1214.05,864.28) scale(0.99,1)" font-family="'Liberation Sans','Noto Sans CJK SC',sans-serif" font-size="22.8" font-weight="bold" text-anchor="end">0.07</text>
<text transform="translate(1214.05,982.46) scale(0.99,1)" font-family="'Liberation Sans','Noto Sans CJK SC',sans-serif" font-size="22.8" font-weight="bold" text-anchor="end">0.06</text>
<text transform="translate(1214.05,1100.64) scale(0.99,1)" font-family="'Liberation Sans','Noto Sans CJK SC',sans-serif" font-size="22.8" font-weight="bold" text-anchor="end">0.05</text>
<text transform="translate(1214.05,1218.82) scale(0.99,1)" font-family="'Liberation Sans','Noto Sans CJK SC',sans-serif" font-size="22.8" font-weight="bold" text-anchor="end">0.04</text>
<text transform="translate(1214.05,1337) scale(0.99,1)" font-family="'Liberation Sans','Noto Sans CJK SC',sans-serif" font-size="22.8" font-weight="bold" text-anchor="end">0.03</text>
<text x="1230.8" y="1367" font-family="'Liberation Sans','Noto Sans CJK SC',sans-serif" font-size="22.4" font-weight="bold" text-anchor="middle">0</text>
<text x="1452.25" y="1367" font-family="'Liberation Sans','Noto Sans CJK SC',sans-serif" font-size="22.4" font-weight="bold" text-anchor="middle">2</text>
<text x="1673.7" y="1367" font-family="'Liberation Sans','Noto Sans CJK SC',sans-serif" font-size="22.4" font-weight="bold" text-anchor="middle">4</text>
<text x="1895.15" y="1367" font-family="'Liberation Sans','Noto Sans CJK SC',sans-serif" font-size="22.4" font-weight="bold" text-anchor="middle">6</text>
<text x="2116.6" y="1367" font-family="'Liberation Sans','Noto Sans CJK SC',sans-serif" font-size="22.4" font-weight="bold" text-anchor="middle">8</text>
<text x="1673" y="1404.9" font-family="'Liberation Serif','Noto Serif CJK SC',serif" font-size="24.8" font-weight="bold" text-anchor="middle" letter-spacing="0.3">Time (Day)</text>
<text transform="translate(1148.2,1076.5) rotate(-90)" font-family="'Liberation Serif',serif" font-size="33" font-weight="bold" font-style="italic">OD<tspan dy="7" dx="-0.5" font-size="26" letter-spacing="0.5" font-style="normal">600</tspan></text>
<g font-family="'Liberation Sans',sans-serif" font-size="38.0" stroke="#231815" stroke-width="0.55"><text transform="translate(1279.5,761.4) scale(1.13,1)">(</text><text transform="translate(1324.32,761.4) scale(1.13,1)">)</text></g>
<text transform="translate(1294.3,763.3) scale(1.05,1)" font-family="'Liberation Serif',serif" font-size="40" stroke="#231815" stroke-width="0.6">D</text>
</g>
<g id="legend">
<text x="79.35" y="1457.1" font-family="'Liberation Serif',serif" font-size="38" font-style="italic" xml:space="preserve">A. hongdengensis</text>
<text x="351.5" y="1443.5" font-family="'Liberation Serif',serif" font-size="29" xml:space="preserve">T</text>
<text x="410.2" y="1457.1" font-family="'Liberation Serif',serif" font-size="38" letter-spacing="0.05" xml:space="preserve">MCCC1A01496</text>
<text x="783.4" y="1454.5" font-family="'Liberation Serif',serif" font-size="38" font-style="italic" letter-spacing="0.61" xml:space="preserve">Alcanivorax</text>
<text x="997.7" y="1454.5" font-family="'Liberation Serif',serif" font-size="38" letter-spacing="0.38" xml:space="preserve">sp.</text>
<text x="1051.4" y="1454.5" font-family="'Liberation Serif',serif" font-size="38" letter-spacing="0.12" xml:space="preserve">MCCC1A04522</text>
<text x="1422.8" y="1445.7" font-family="'Liberation Serif',serif" font-size="38" font-style="italic" letter-spacing="0.58" xml:space="preserve">A.xenomutans</text>
<text x="1683.9" y="1445.7" font-family="'Liberation Serif',serif" font-size="38" letter-spacing="-0.16" xml:space="preserve">MCCC1A05661</text>
<text x="91.4" y="1527" font-family="'Liberation Serif',serif" font-size="38" font-style="italic" letter-spacing="0.61" xml:space="preserve">Alcanivorax</text>
<text x="306" y="1527" font-family="'Liberation Serif',serif" font-size="38" xml:space="preserve">sp.</text>
<text x="359.4" y="1527" font-family="'Liberation Serif',serif" font-size="38" letter-spacing="0.06" xml:space="preserve">MCCC1A02275</text>
<text x="783.4" y="1527" font-family="'Liberation Serif',serif" font-size="38" font-style="italic" letter-spacing="0.71" xml:space="preserve">A. venustensis</text>
<text x="1052.5" y="1527" font-family="'Liberation Serif',serif" font-size="38" letter-spacing="-0.09" xml:space="preserve">MCCC1A04970</text>
<text x="1410.3" y="1523.7" font-family="'Liberation Serif',serif" font-size="38" font-style="italic" letter-spacing="0.74" xml:space="preserve">A. profundimaris</text>
<text x="1684.2" y="1505.2" font-family="'Liberation Serif',serif" font-size="29" xml:space="preserve">T</text>
<text x="1722.4" y="1523.7" font-family="'Liberation Serif',serif" font-size="38" letter-spacing="-0.07" xml:space="preserve">MCCC1A17714</text>
<text x="2192.3" y="1518.3" font-family="'Liberation Serif',serif" font-size="38" letter-spacing="0.70" xml:space="preserve">CK</text>
<path d="M6.8,1443.6H57" stroke="#ADA470" stroke-width="3.1" fill="none"/>
<circle cx="31.9" cy="1443.6" r="9.44" fill="#ADA470"/>
<path d="M704.6,1440H755" stroke="#D6ABAB" stroke-width="3.1" fill="none"/>
<rect x="720" y="1430.4" width="19.2" height="19.2" fill="#D6ABAB"/>
<path d="M1344.1,1431.7H1394.2" stroke="#A5D6A4" stroke-width="3.1" fill="none"/>
<polygon points="1359.42,1441.3 1378.78,1441.3 1369.1,1422.42" fill="#A5D6A4"/>
<path d="M12.9,1512.7H63" stroke="#85A5CF" stroke-width="3.1" fill="none"/>
<polygon points="27.92,1503.1 47.28,1503.1 37.6,1521.98" fill="#85A5CF"/>
<path d="M705,1512.6H755" stroke="#8389C6" stroke-width="3.1" fill="none"/>
<polygon points="721.52,1512.6 730,1503 738.48,1512.6 730,1522.2" fill="#8389C6"/>
<path d="M1339.1,1513.5H1389.8" stroke="#A57CBB" stroke-width="3.1" fill="none"/>
<circle cx="1364.4" cy="1513.5" r="9.44" fill="none" stroke="#A57CBB" stroke-width="6"/>
<path d="M2114.7,1508.1H2164.8" stroke="#E93E3E" stroke-width="3.1" fill="none"/>
<rect x="2130" y="1498.5" width="19.2" height="19.2" fill="none" stroke="#E93E3E" stroke-width="6"/>
</g>
</svg>
</body>
</html>
